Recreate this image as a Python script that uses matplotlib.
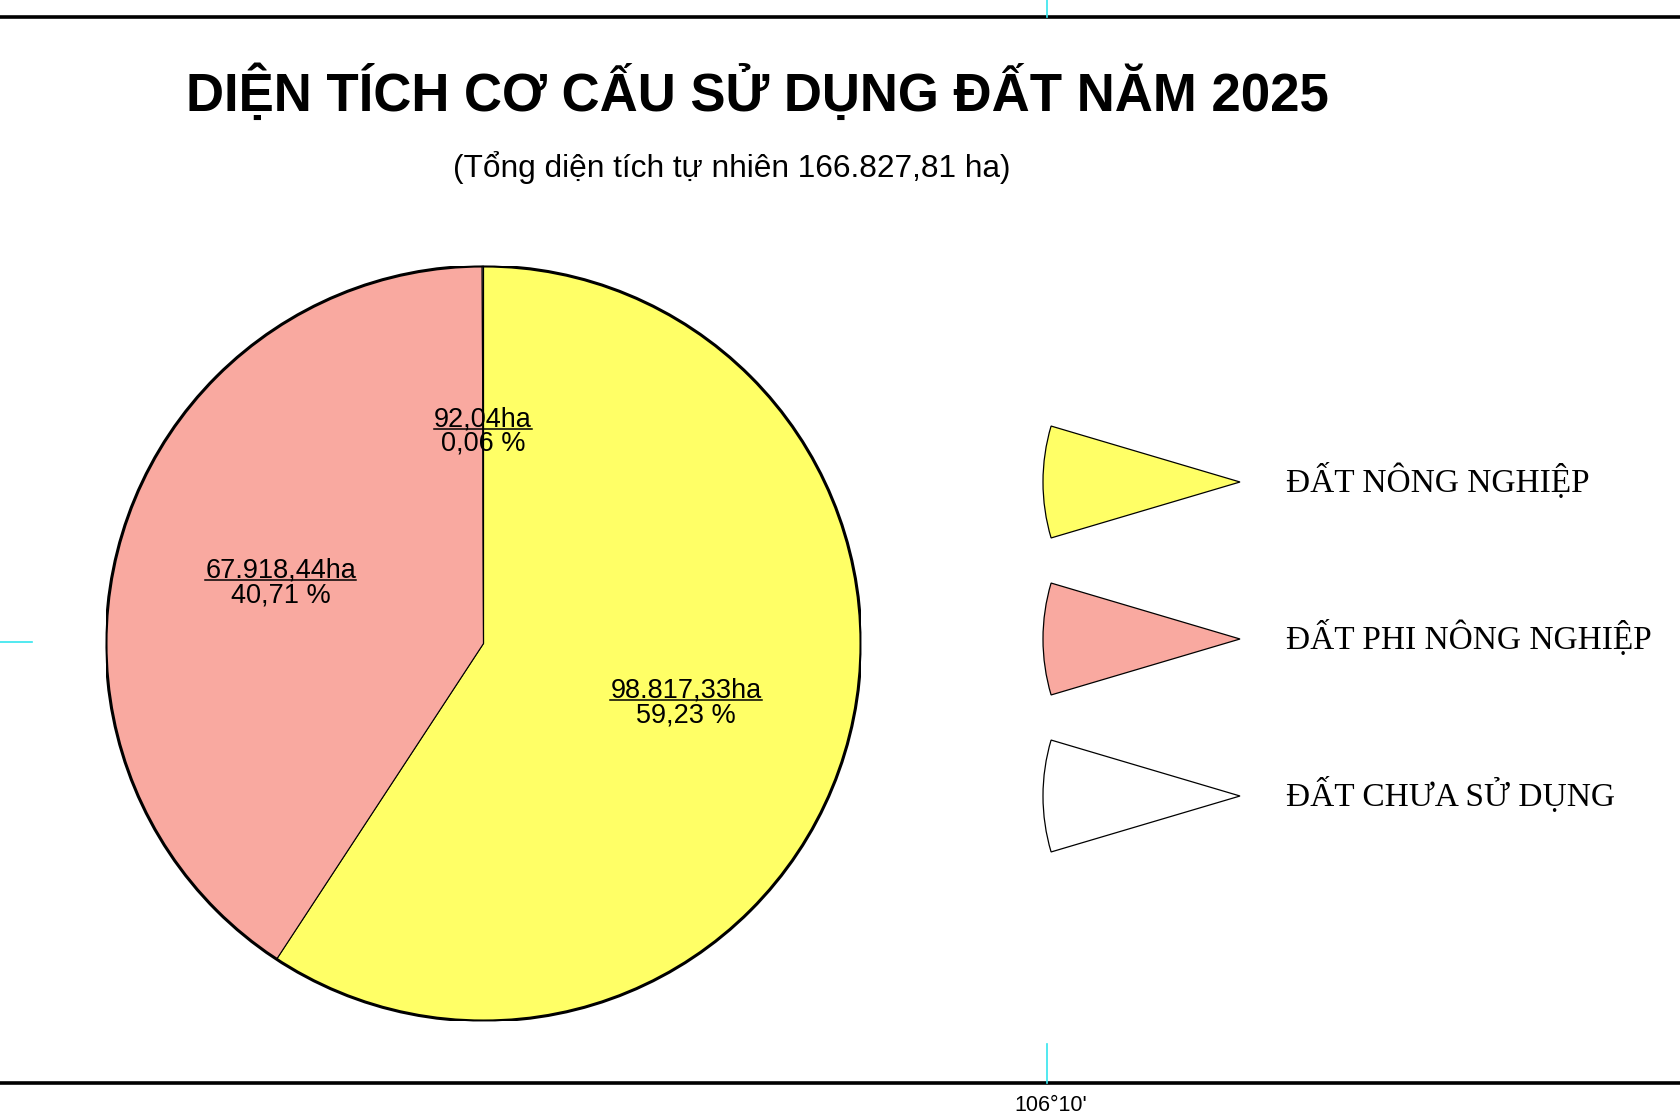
import matplotlib
matplotlib.use('Agg')
import matplotlib.pyplot as plt
from matplotlib.patches import Wedge, Circle
import numpy as np

# ---------------- data ----------------
CATEGORIES = ['ĐẤT NÔNG NGHIỆP', 'ĐẤT PHI NÔNG NGHIỆP', 'ĐẤT CHƯA SỬ DỤNG']
AREAS_HA = [98817.33, 67918.44, 92.04]
PERCENTS = [59.23, 40.71, 0.06]
COLORS = ['#FFFF66', '#F9A9A0', '#FFFFFF']

TITLE = 'DIỆN TÍCH CƠ CẤU SỬ DỤNG ĐẤT NĂM 2025'
SUBTITLE = '(Tổng diện tích tự nhiên 166.827,81 ha)'
COORD_LABEL = "106°10'"

SANS = ['Liberation Sans', 'DejaVu Sans']
SERIF = ['Liberation Serif', 'DejaVu Serif']

W, H = 1680, 1116


def vn_number(v):
    """98817.33 -> '98.817,33' (Vietnamese separators)."""
    s = f'{v:,.2f}'
    return s.replace(',', '_').replace('.', ',').replace('_', '.')


fig = plt.figure(figsize=(W / 100, H / 100), dpi=100)
fig.patch.set_facecolor('white')

# ---------------- pie ----------------
cx, cy, R = 483.5, 643.5, 377.5
ax = fig.add_axes([(cx - R) / W, 1 - (cy + R) / H, 2 * R / W, 2 * R / H])
ax.set_xlim(-1, 1)
ax.set_ylim(-1, 1)
ax.set_aspect('equal')
ax.axis('off')

# overlay in pixel coordinates (on top) for frame lines, underlines, legend keys
ov = fig.add_axes([0, 0, 1, 1])
ov.set_xlim(0, W)
ov.set_ylim(H, 0)
ov.axis('off')
ov.set_zorder(3)

# map-frame lines
ov.plot([0, W], [17, 17], color='black', lw=2.6, solid_capstyle='butt')
ov.plot([0, W], [1083, 1083], color='black', lw=2.6, solid_capstyle='butt')
ov.plot([1047, 1047], [0, 17], color='#33E5EE', lw=1.2)
ov.plot([1047, 1047], [1044, 1083], color='#33E5EE', lw=1.2)
ov.plot([0, 32], [642, 642], color='#33E5EE', lw=1.2)
ov.text(1051, 1111, COORD_LABEL, ha='center', va='baseline', fontsize=15.5, family=SANS)

# titles
fig.text(757 / W, 1 - 111 / H, TITLE, ha='center', va='baseline',
         fontsize=38, fontweight='bold', family=SANS)
fig.text(732 / W, 1 - 177 / H, SUBTITLE, ha='center', va='baseline',
         fontsize=22.8, family=SANS)

wedges, _ = ax.pie(AREAS_HA, colors=COLORS, startangle=90, counterclock=False,
                   radius=1, wedgeprops=dict(edgecolor='black', linewidth=0.8))
ax.add_patch(Circle((0, 0), 1, fill=False, edgecolor='black', lw=2.2, zorder=5))
ax.set_xlim(-1, 1)
ax.set_ylim(-1, 1)

value_texts = []
for w, area, pct in zip(wedges, AREAS_HA, PERCENTS):
    mid = np.deg2rad((w.theta1 + w.theta2) / 2)
    r = 0.56
    x, y = r * np.cos(mid), r * np.sin(mid)
    t1 = ax.text(x, y + 0.016, vn_number(area) + 'ha', ha='center', va='baseline',
                 fontsize=19.5, family=SANS, zorder=6)
    ax.text(x, y - 0.050, f'{pct:.2f}'.replace('.', ',') + ' %', ha='center',
            va='baseline', fontsize=19.5, family=SANS, zorder=6)
    value_texts.append((t1, x, y + 0.016))

# underline the area values
fig.canvas.draw()
renderer = fig.canvas.get_renderer()
for t1, x, yb in value_texts:
    bb = t1.get_window_extent(renderer)
    base_disp = ax.transData.transform((x, yb))[1]
    yy = H - base_disp + 2.5
    ov.plot([bb.x0, bb.x1], [yy, yy], color='black', lw=1.1)

# ---------------- legend ----------------
tip_x, key_r, half = 1240, 197, 16.5
for i, (name, col) in enumerate(zip(CATEGORIES, COLORS)):
    ty = 482 + i * 157
    ov.add_patch(Wedge((tip_x, ty), key_r, 180 - half, 180 + half,
                       facecolor=col, edgecolor='black', lw=0.9))
    ov.text(1286, ty + 10, name, ha='left', va='baseline',
            fontsize=24, family=SERIF)

fig.savefig('out.png', dpi=100)
